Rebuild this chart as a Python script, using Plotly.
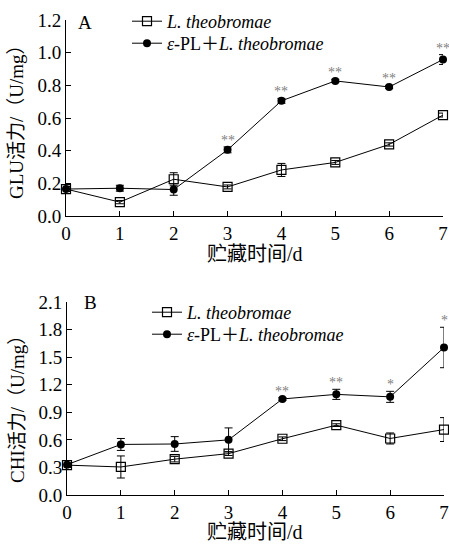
import plotly.graph_objects as go

days = [0, 1, 2, 3, 4, 5, 6, 7]

# Panel A: GLU activity (U/mg)
glu_lt = [0.165, 0.085, 0.225, 0.178, 0.282, 0.328, 0.438, 0.618]
glu_lt_err = [0.015, 0.01, 0.04, 0.012, 0.04, 0.012, 0.01, 0.012]
glu_pl = [0.165, 0.170, 0.162, 0.405, 0.705, 0.827, 0.790, 0.958]
glu_pl_err = [0.015, 0.018, 0.035, 0.018, 0.015, 0.01, 0.01, 0.03]
glu_sig = ["", "", "", "**", "**", "**", "**", "**"]

# Panel B: CHI activity (U/mg)
chi_lt = [0.325, 0.305, 0.390, 0.450, 0.612, 0.760, 0.615, 0.712]
chi_lt_err = [0.02, 0.12, 0.03, 0.02, 0.02, 0.015, 0.06, 0.13]
chi_pl = [0.330, 0.550, 0.555, 0.600, 1.045, 1.095, 1.068, 1.605]
chi_pl_err = [0.02, 0.065, 0.08, 0.13, 0.015, 0.055, 0.06, 0.22]
chi_sig = ["", "", "", "", "**", "**", "*", "*"]

name_lt = "<i>L. theobromae</i>"
name_pl = "<i>ε</i>-PL＋<i>L. theobromae</i>"
x_title = "贮藏时间/d"
y_title_a = "GLU活力/（U/mg）"
y_title_b = "CHI活力/（U/mg）"

FONT = "Liberation Serif, Noto Sans CJK SC, serif"
W, H = 449, 545

fig = go.Figure()

def add_pair(xa, ya, lt, lte, pl, ple, leg1, leg2):
    fig.add_trace(go.Scatter(
        x=days, y=lt, xaxis=xa, yaxis=ya, name=name_lt, legend=leg1,
        mode="lines+markers", cliponaxis=False,
        line=dict(color="black", width=1),
        marker=dict(symbol="square-open", size=9, color="black", line=dict(width=1.2)),
        error_y=dict(type="data", array=lte, color="black", thickness=1, width=4),
    ))
    fig.add_trace(go.Scatter(
        x=days, y=pl, xaxis=xa, yaxis=ya, name=name_pl, legend=leg2,
        mode="lines+markers", cliponaxis=False,
        line=dict(color="black", width=1),
        marker=dict(symbol="circle", size=8, color="black"),
        error_y=dict(type="data", array=ple, color="black", thickness=1, width=4),
    ))

add_pair("x", "y", glu_lt, glu_lt_err, glu_pl, glu_pl_err, "legend2", "legend3")
add_pair("x2", "y2", chi_lt, chi_lt_err, chi_pl, chi_pl_err, "legend4", "legend5")

annotations = []
for xr, yr, vals, errs, sig in [("x", "y", glu_pl, glu_pl_err, glu_sig),
                                ("x2", "y2", chi_pl, chi_pl_err, chi_sig)]:
    for d, v, e, s in zip(days, vals, errs, sig):
        if s:
            annotations.append(dict(x=d, y=v + e, xref=xr, yref=yr, text=s,
                                    showarrow=False, yanchor="bottom", yshift=-3,
                                    font=dict(family=FONT, size=14, color="#808080")))

def paper_text(px, py, text, size, angle=0):
    annotations.append(dict(x=px / W, y=1 - py / H, xref="paper", yref="paper", text=text,
                            showarrow=False, xanchor="center", yanchor="middle",
                            textangle=angle,
                            font=dict(family=FONT, size=size, color="black")))

paper_text(85, 22, "A", 19)
paper_text(90, 302, "B", 19)
paper_text(255, 254, x_title, 20)
paper_text(255, 532, x_title, 20)
paper_text(17, 117, y_title_a, 19, -90)
paper_text(17, 405, y_title_b, 19, -90)

axis_common = dict(showline=True, linecolor="black", linewidth=1, ticks="inside",
                   ticklen=5, tickcolor="black", tickwidth=1, showgrid=False,
                   zeroline=False, automargin=False,
                   tickfont=dict(family=FONT, size=19, color="black"))

def leg(px, py):
    return dict(x=px / W, y=1 - py / H, xanchor="left", yanchor="top",
                bgcolor="rgba(0,0,0,0)", font=dict(family=FONT, size=18),
                tracegroupgap=0, itemwidth=30)

fig.update_layout(
    width=W, height=H, margin=dict(l=0, r=0, t=0, b=0, autoexpand=False),
    paper_bgcolor="white", plot_bgcolor="white",
    font=dict(family=FONT, size=17, color="black"),
    showlegend=True,
    xaxis=dict(domain=[66 / W, 443 / W], range=[0, 7], dtick=1, anchor="y", **axis_common),
    yaxis=dict(domain=[1 - 216 / H, 1 - 20 / H], range=[0, 1.2], dtick=0.2, tickformat=".1f",
               anchor="x", **axis_common),
    xaxis2=dict(domain=[67 / W, 444 / W], range=[0, 7], dtick=1, anchor="y2", **axis_common),
    yaxis2=dict(domain=[1 - 495 / H, 1 - 302 / H], range=[0, 2.1], dtick=0.3, tickformat=".1f",
                anchor="x2", **axis_common),
    legend2=leg(127, 3),
    legend3=leg(127, 25),
    legend4=leg(147, 294),
    legend5=leg(147, 316),
    annotations=annotations,
)

fig.write_html("out.html", config={"displayModeBar": False},
               post_script="document.body.style.margin='0';")
